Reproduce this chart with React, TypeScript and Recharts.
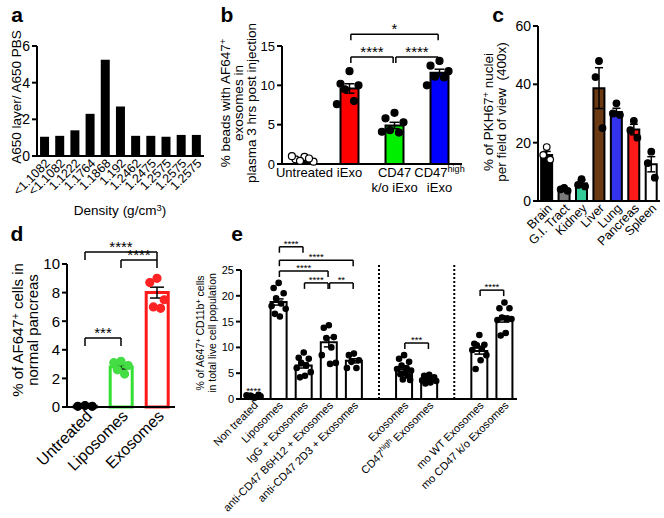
import React from 'react';
import { ComposedChart, Bar, Cell, Scatter, ErrorBar, XAxis, YAxis, ReferenceLine } from 'recharts';

const FONT = '"Liberation Sans", Arial, Helvetica, sans-serif';

// a - density gradient fractions
const densityLabels = ['<1.1082', '<1.1082', '1.1222', '1.1764', '1.1868', '1.192', '1.2462', '1.2475', '1.2575', '1.2575', '1.2575'];
const densityRatio = [1.05, 1.1, 1.4, 2.3, 5.25, 2.7, 1.1, 1.1, 1.05, 1.15, 1.15];

// b - beads in plasma
const bGroups = ['Untreated', 'iExo', 'CD47\nk/o iExo', 'CD47^high\niExo'];
const bMeans = [0.6, 9.6, 4.9, 11.6];
const bSem = [0.12, 0.6, 0.4, 0.45];
const bPoints = [
  [0.9, 0.6, 0.3, 0.4, 0.7, 1.0],
  [11.8, 10.2, 10.0, 9.5, 8.0, 7.6],
  [6.5, 5.8, 5.3, 4.3, 4.0, 4.1],
  [13.1, 12.5, 11.8, 11.1, 11.0, 10.0],
];
const bBrackets: [number, number, number, string][] = [[1, 3, 16.5, '*'], [1, 2, 13.6, '****'], [2, 3, 13.6, '****']];

// c - organs
const organs = ['Brain', 'G.I. Tract', 'Kidney', 'Liver', 'Lung', 'Pancreas', 'Spleen'];
const organMeans = [15.8, 4.0, 6.0, 38.7, 30.5, 24.5, 12.6];
const organSem = [1.2, 0.3, 1.2, 7.0, 1.3, 1.8, 2.6];
const organPoints = [
  [18.5, 15.8, 14.2],
  [4.5, 4.0, 3.5],
  [7.5, 5.5, 5.0],
  [48, 42.5, 25],
  [33.5, 30, 29.5],
  [27.5, 24.3, 21.7],
  [16.9, 13, 8],
];

// d - normal pancreas
const dGroups = ['Untreated', 'Liposomes', 'Exosomes'];
const dMeans = [0.05, 2.8, 8.0];
const dSem = [0.02, 0.15, 0.38];
const dPoints = [
  [0.1, 0.05, 0.05],
  [3.2, 3.1, 2.9, 2.6, 2.3],
  [9.0, 8.7, 7.5, 7.0, 6.9],
];
const dBrackets: [number, number, number, string][] = [[0, 1, 4.83, '***'], [1, 2, 10.28, '****'], [0, 2, 10.84, '****']];

// e - CD11b+ cells
const eGroups = ['Non treated', 'Liposomes', 'IgG + Exosomes', 'anti-CD47 B6H12 + Exosomes', 'anti-CD47 2D3 + Exosomes', ' ',
  'Exosomes', 'CD47^high Exosomes', '  ', 'mo WT Exosomes', 'mo CD47 k/o Exosomes'];
const eMeans = [0.5, 18.8, 6.5, 11.0, 7.4, null, 5.7, 3.9, null, 9.3, 15.5];
const eSem = [0.1, 0.6, 0.5, 0.9, 0.4, null, 0.35, 0.2, null, 0.6, 0.6];
const ePoints = [
  [0.3, 0.5, 0.8, 0.6, 0.4, 0.7, 0.5, 0.3, 0.6],
  [22.5, 21.5, 20.5, 19.5, 18.5, 18, 17.5, 16, 16.5],
  [9, 8, 7.8, 7, 6.5, 6, 5.2, 4.5, 4.2],
  [14.3, 13.8, 12, 11.8, 10, 8.5, 7, 6.8],
  [8.8, 8.5, 7.5, 7.2, 6, 6],
  [],
  [8.5, 7.8, 7.2, 6.5, 6, 5.8, 5.5, 5, 4.8, 4.5, 3.8, 3.7],
  [4.7, 4.5, 4.2, 4, 3.8, 3.6, 3.5, 3.2, 3],
  [],
  [12.4, 10.7, 10.5, 10.4, 9.8, 9.5, 8.5, 7.5, 5.8],
  [18.7, 17.6, 17.6, 15.8, 15.5, 15.3, 15.5, 12.8, 12.3],
];
const eBrackets: [number, number, number, string][] = [
  [1, 2, 29.5, '****'], [1, 4, 26.9, '****'], [1, 3, 24.8, '****'], [2, 3, 22.5, '****'], [3, 4, 22.5, '**'],
  [6, 7, 10.85, '***'], [9, 10, 21.1, '****'],
];
const eDividers = [5, 8];

// horizontal spread of dots inside a bar (fraction of a slot)
const JIT = [0, -0.2, 0.2, -0.1, 0.1, -0.28, 0.28, 0.05, -0.15, 0.15, -0.05, 0.24];

// svg text with ^superscripts
const rich = (s: string, fs: number) => {
  const parts = String(s).split(/\^([^\s)]+)/);
  const out: React.ReactNode[] = [];
  let shifted = false;
  parts.forEach((p, i) => {
    if (i % 2 === 1) {
      out.push(<tspan key={i} dy={-fs * 0.4} fontSize={fs * 0.7}>{p}</tspan>);
      shifted = true;
    } else if (p) {
      out.push(<tspan key={i} dy={shifted ? fs * 0.4 : 0}>{p}</tspan>);
      shifted = false;
    }
  });
  return out;
};

// html text with ^superscripts
const richHtml = (s: string) =>
  String(s).split(/\^([^\s)]+)/).map((p, i) =>
    i % 2 === 1
      ? <sup key={i} style={{ fontSize: '0.7em', lineHeight: 0, verticalAlign: '0.45em' }}>{p}</sup>
      : <span key={i}>{p}</span>);

// text whose baseline passes through (x, base); rot = reads bottom-to-top
const HText = ({ x, base, fs, rot, bold, text }: { x: number; base: number; fs: number; rot?: boolean; bold?: boolean; text: string }) => (
  <div style={{
    position: 'absolute', left: x, top: base, fontSize: fs, lineHeight: 1, whiteSpace: 'pre', fontWeight: bold ? 'bold' : 'normal',
    transformOrigin: '0 0', transform: rot ? 'rotate(-90deg) translate(-50%, -0.905em)' : 'translate(-50%, -0.905em)',
  }}>{richHtml(text)}</div>
);

const RotTick = (p: any) => {
  const { x, y, payload, fs, dx = 0, dy = 0 } = p;
  const tx = x + dx, ty = y + dy;
  if (!String(payload.value).trim()) return <g />;
  return (
    <text x={tx} y={ty} transform={`rotate(-45 ${tx} ${ty})`} textAnchor="end" fontSize={fs} fontFamily={FONT} fill="#000">
      {rich(payload.value, fs)}
    </text>
  );
};

const LinesTick = (p: any) => {
  const { x, y, payload, fs } = p;
  const lines = String(payload.value).split('\n');
  return (
    <g>
      {lines.map((l, k) => (
        <text key={k} x={x} y={y + fs + k * fs * 1.15} textAnchor="middle" fontSize={fs} fontFamily={FONT} fill="#000">
          {rich(l, fs)}
        </text>
      ))}
    </g>
  );
};

const bracketLines = (list: [number, number, number, string][], leg: number, fs: number, inset: number) =>
  list.flatMap(([i, j, h, txt], k) => {
    const a = i + inset, b = j - inset;
    const common = { xAxisId: 'n', ifOverflow: 'visible' as const, stroke: '#000', strokeWidth: 1.5 };
    return [
      <ReferenceLine key={`h${k}`} {...common} segment={[{ x: a, y: h }, { x: b, y: h }]}
        label={{ value: txt, position: 'top', offset: 0, fontSize: fs, fill: '#000', fontFamily: FONT }} />,
      <ReferenceLine key={`l${k}`} {...common} segment={[{ x: a, y: h }, { x: a, y: h - leg }]} />,
      <ReferenceLine key={`r${k}`} {...common} segment={[{ x: b, y: h }, { x: b, y: h - leg }]} />,
    ];
  });

type PanelProps = {
  left: number; top: number; width: number; height: number;
  mTop: number; mRight: number; mBottom: number;
  yWidth: number; xHeight: number;
  names: string[]; means: (number | null)[]; sems?: (number | null)[]; points?: number[][];
  fills: string[]; strokes: string[]; barStroke: number; gap: string;
  dotFill?: string[]; dotStroke?: string[]; dotR?: number;
  domain: [number, number]; ticks: number[]; yFont: number;
  tick: React.ReactElement; errW?: number;
  children?: React.ReactNode;
};

const Panel = (p: PanelProps) => {
  const table = p.names.map((name, i) => ({ name, v: p.means[i] }));
  const n = p.names.length;
  return (
    <div style={{ position: 'absolute', left: p.left, top: p.top, width: p.width, height: p.height }}>
      <ComposedChart width={p.width} height={p.height} data={table} barCategoryGap={p.gap}
        margin={{ top: p.mTop, right: p.mRight, bottom: p.mBottom, left: 0 }}>
        <XAxis xAxisId="c" dataKey="name" interval={0} tickLine={false} tickSize={0} tickMargin={0}
          axisLine={{ stroke: '#000', strokeWidth: 2 }} height={p.xHeight} tick={p.tick} />
        <XAxis xAxisId="n" type="number" dataKey="x" domain={[-0.5, n - 0.5]} hide allowDataOverflow />
        <YAxis width={p.yWidth} domain={p.domain} ticks={p.ticks} interval={0}
          tick={{ fill: '#000', fontSize: p.yFont }} tickLine={{ stroke: '#000', strokeWidth: 2 }} tickSize={5}
          axisLine={{ stroke: '#000', strokeWidth: 2 }} />
        <Bar xAxisId="c" dataKey="v" isAnimationActive={false}>
          {p.names.map((nm, i) => (
            <Cell key={i} fill={p.fills[i % p.fills.length]} stroke={p.strokes[i % p.strokes.length]} strokeWidth={p.barStroke} />
          ))}
        </Bar>
        {(p.points || []).map((arr, i) => (
          <Scatter key={`s${i}`} xAxisId="n" dataKey="y" isAnimationActive={false}
            data={arr.map((y, j) => ({ x: i + JIT[j % JIT.length], y }))}
            shape={(s: any) => (
              <circle cx={s.cx} cy={s.cy} r={p.dotR} fill={p.dotFill![i]} stroke={p.dotStroke![i]} strokeWidth={1.2} />
            )} />
        ))}
        {p.sems && (
          <Scatter xAxisId="n" dataKey="y" isAnimationActive={false}
            data={p.means.map((y, i) => ({ x: i, y, e: p.sems![i] })).filter((d) => d.y != null)}
            shape={() => <g />}>
            <ErrorBar dataKey="e" direction="y" width={p.errW ?? 5} stroke="#000" strokeWidth={1.5} />
          </Scatter>
        )}
        {/* baseline along y = 0, same as the x axis */}
        <ReferenceLine xAxisId="n" ifOverflow="visible" segment={[{ x: -0.5, y: 0 }, { x: n - 0.5, y: 0 }]}
          stroke="#000" strokeWidth={2} />
        {p.children}
      </ComposedChart>
    </div>
  );
};

export default function App() {
  return (
    <div style={{ position: 'absolute', left: 0, top: 0, width: 664, height: 518, background: '#fff', fontFamily: FONT, color: '#000' }}>
      <HText x={17} base={23} fs={21} bold text="a" />
      <HText x={227} base={23} fs={21} bold text="b" />
      <HText x={498} base={23} fs={21} bold text="c" />
      <HText x={17} base={242} fs={21} bold text="d" />
      <HText x={237} base={242} fs={21} bold text="e" />
      <HText x={22} base={97} fs={13.5} rot text="A650 layer/ A650 PBS" />
      <HText x={120} base={216} fs={13.5} text="Density (g/cm^3)" />
      <HText x={231} base={103} fs={13.5} rot text="% beads with AF647^+" />
      <HText x={244} base={103} fs={13.5} rot text="exosomes in" />
      <HText x={257} base={103} fs={13.5} rot text="plasma 3 hrs post injection" />
      <HText x={494} base={112} fs={13.5} rot text="% of PKH67^+ nuclei" />
      <HText x={507} base={112} fs={13.5} rot text="per field of view  (400x)" />
      <HText x={24} base={330} fs={15} rot text="% of AF647^+ cells in" />
      <HText x={39} base={330} fs={15} rot text="normal pancreas" />
      <HText x={205} base={333} fs={10.5} rot text="% of A647^+ CD11b^+ cells" />
      <HText x={217} base={333} fs={10.5} rot text="in total live cell population" />

      <Panel left={0} top={0} width={215} height={208} mTop={46} mRight={11} mBottom={4} yWidth={37} xHeight={48}
        names={densityLabels} means={densityRatio} fills={['#000']} strokes={['#000']} barStroke={0} gap="20%"
        domain={[0, 6]} ticks={[0, 2, 4, 6]} yFont={14}
        tick={<RotTick fs={12.5} dx={6} dy={8} />} />
      <Panel left={258} top={0} width={210} height={200} mTop={46} mRight={6} mBottom={4} yWidth={24} xHeight={32}
        names={bGroups} means={bMeans} sems={bSem} points={bPoints}
        fills={['#000', '#ff0000', '#00ee00', '#0000ff']} strokes={['#000']} barStroke={2} gap="30%"
        dotFill={['#fff', '#000', '#000', '#000']} dotStroke={['#000', '#000', '#000', '#000']} dotR={3.5}
        domain={[0, 15]} ticks={[0, 5, 10, 15]} yFont={13} errW={5}
        tick={<LinesTick fs={13} />}>
        {bracketLines(bBrackets, 0.76, 15, 0.03)}
      </Panel>
      <Panel left={500} top={0} width={164} height={250} mTop={26} mRight={4} mBottom={4} yWidth={38} xHeight={45}
        names={organs} means={organMeans} sems={organSem} points={organPoints}
        fills={['#000', '#7a7a7a', '#33cc99', '#6b3a12', '#3333ee', '#ff1a1a', '#fff']} strokes={['#000']} barStroke={2} gap="18%"
        dotFill={['#fff', '#000', '#000', '#000', '#000', '#000', '#000']} dotStroke={Array(7).fill('#000')} dotR={3.3}
        domain={[0, 60]} ticks={[0, 20, 40, 60]} yFont={14} errW={4}
        tick={<RotTick fs={12.5} dx={6} dy={8} />} />
      <Panel left={15} top={235} width={165} height={245} mTop={29} mRight={5} mBottom={4} yWidth={52} xHeight={69}
        names={dGroups} means={dMeans} sems={dSem} points={dPoints}
        fills={['#fff']} strokes={['#000', '#33e033', '#ff1a1a']} barStroke={3} gap="20%"
        dotFill={['#000', '#44dd44', '#ff2222']} dotStroke={['#000', '#44dd44', '#ff2222']} dotR={4}
        domain={[0, 10]} ticks={[0, 2, 4, 6, 8, 10]} yFont={15} errW={7}
        tick={<RotTick fs={16} dx={8} dy={10} />}>
        {bracketLines(dBrackets, 0.56, 15, 0)}
      </Panel>
      <Panel left={212} top={232} width={308} height={283} mTop={38} mRight={3} mBottom={4} yWidth={29} xHeight={112}
        names={eGroups} means={eMeans} sems={eSem} points={ePoints}
        fills={['#fff']} strokes={['#000']} barStroke={2} gap="18%"
        dotFill={Array(11).fill('#000')} dotStroke={Array(11).fill('#000')} dotR={2.7}
        domain={[0, 25]} ticks={[0, 5, 10, 15, 20, 25]} yFont={11} errW={5}
        tick={<RotTick fs={11} dx={5} dy={7} />}>
        {bracketLines(eBrackets, 1.16, 9.5, 0.03)}
        <ReferenceLine xAxisId="n" ifOverflow="visible" segment={[{ x: -0.3, y: 1.0 }, { x: 0.3, y: 1.0 }]} stroke="none"
          label={{ value: '****', position: 'top', offset: 0, fontSize: 9.5, fill: '#000', fontFamily: FONT }} />
        {eDividers.map((d) => (
          <ReferenceLine key={`div${d}`} xAxisId="n" ifOverflow="visible" segment={[{ x: d, y: 0 }, { x: d, y: 26 }]}
            stroke="#000" strokeWidth={2} strokeDasharray="2 2" />
        ))}
      </Panel>
    </div>
  );
}
